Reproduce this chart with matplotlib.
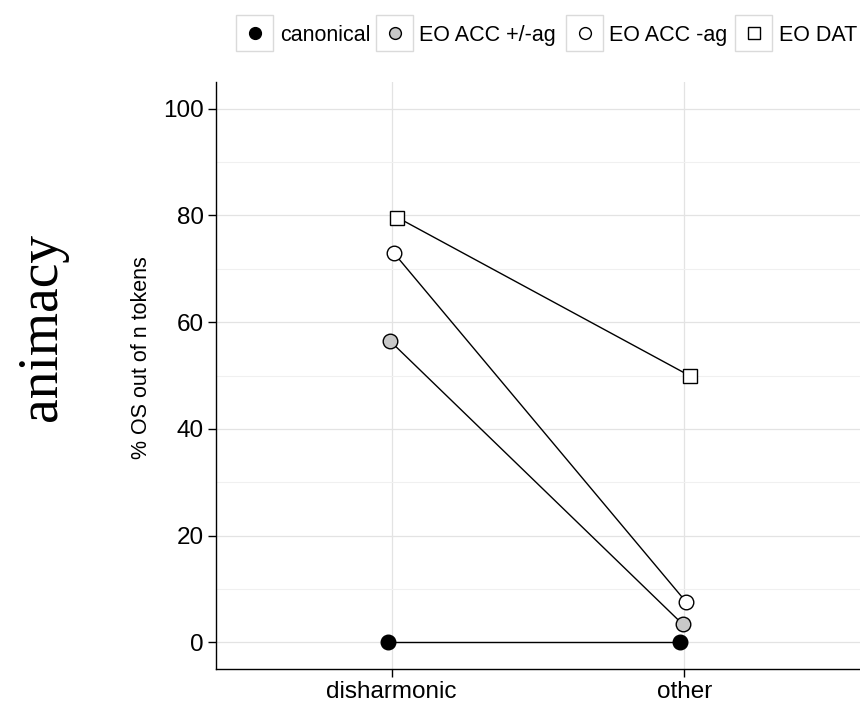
import numpy as np
import matplotlib
matplotlib.use("Agg")
from matplotlib import pyplot as plt
from matplotlib.patches import Rectangle
from matplotlib.lines import Line2D

plt.rcParams['font.family'] = ['Liberation Sans', 'DejaVu Sans']

categories = ['disharmonic', 'other']
series = ['canonical', 'EO ACC +/-ag', 'EO ACC -ag', 'EO DAT']
canonical = [0.0, 0.0]
eo_acc_pm = [56.5, 3.4]
eo_acc_neg = [73.0, 7.5]
eo_dat = [79.6, 49.9]
values = [canonical, eo_acc_pm, eo_acc_neg, eo_dat]

# small horizontal dodge per series
dodge = [-0.014, -0.006, 0.007, 0.02]
styles = [
    dict(marker='o', mfc='black', ms=10.5),
    dict(marker='o', mfc='#C8C8C8', ms=10.5),
    dict(marker='o', mfc='white', ms=10.5),
    dict(marker='s', mfc='white', ms=10.5),
]

W, H = 860, 706
fig = plt.figure(figsize=(W / 100, H / 100), dpi=100)
ax = fig.add_axes([216 / W, 1 - 669 / H, (W - 216) / W, (669 - 82) / H])

xs = np.arange(1, len(categories) + 1)
for vals, off, st in zip(values, dodge, styles):
    ax.plot(xs + off, vals, color='black', lw=1.0, mec='black', mew=1.0,
            zorder=3, **st)

ax.set_xlim(0.4, 2.6)
ax.set_ylim(-5, 105)
ax.set_xticks(xs)
ax.set_xticklabels(categories)
ax.set_yticks(np.arange(0, 101, 20))
ax.set_yticks(np.arange(10, 101, 20), minor=True)
ax.tick_params(axis='both', which='major', labelsize=17.5, length=6,
               width=1.0, color='black', labelcolor='black', pad=3)
ax.tick_params(axis='y', which='minor', length=0)
ax.grid(True, which='major', color='#E3E3E3', lw=0.9, zorder=0)
ax.grid(True, which='minor', axis='y', color='#F0F0F0', lw=0.8, zorder=0)
for s in ['top', 'right']:
    ax.spines[s].set_visible(False)
for s in ['left', 'bottom']:
    ax.spines[s].set_color('black')
    ax.spines[s].set_linewidth(1.0)
ax.set_ylabel('% OS out of n tokens', fontsize=15.5, labelpad=4)
ax.yaxis.set_label_coords(-0.099, 0.53)

fig.text(42 / W, 1 - 327 / H, 'animacy', rotation=90, ha='center',
         va='center', fontsize=40, family=['Liberation Serif', 'DejaVu Serif'])

# legend drawn along the top
box_left = [236, 376, 566, 735]
text_left = [280, 419, 609, 779]
bw, by0, by1 = 37, 15, 51
for name, st, bx, tx in zip(series, styles, box_left, text_left):
    yc = 1 - (by0 + by1) / 2 / H
    fig.add_artist(Rectangle((bx / W, 1 - by1 / H), bw / W, (by1 - by0) / H,
                             transform=fig.transFigure, facecolor='white',
                             edgecolor='#DADADA', lw=1.0))
    fig.add_artist(Line2D([(bx + bw / 2) / W], [yc],
                          transform=fig.transFigure, marker=st['marker'],
                          mfc=st['mfc'], mec='black', mew=1.0, ms=8.5,
                          ls='none'))
    fig.text(tx / W, yc, name, ha='left', va='center_baseline',
             fontsize=15.5)

fig.savefig('out.png', dpi=100)
